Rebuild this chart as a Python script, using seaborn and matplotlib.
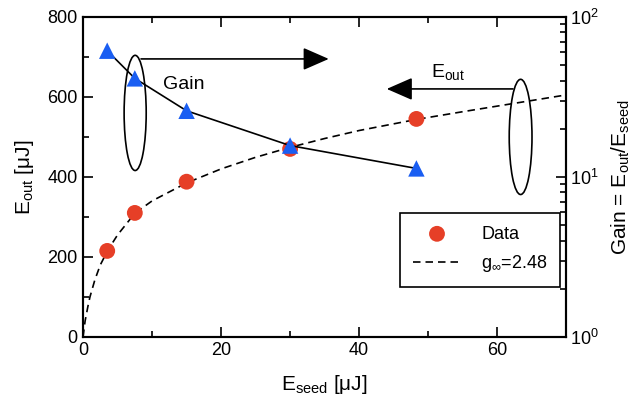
import matplotlib
matplotlib.use("Agg")
import numpy as np
import pandas as pd
import seaborn as sns
import matplotlib.pyplot as plt
from matplotlib.patches import Ellipse
from matplotlib.ticker import MultipleLocator

# measured points
e_seed = [3.5, 7.5, 15.0, 30.0, 48.3]
e_out = [215, 310, 388, 470, 545]
gain = [61.5, 41.3, 25.9, 15.7, 11.3]

# fitted curve
fit_seed = [0, 0.3, 0.7, 1.0, 1.7, 2.5, 3.6, 5, 7.5, 10, 15, 20, 25, 30, 35, 40, 48.4, 55, 60, 65, 70]
fit_out = [0, 40, 76, 100, 142, 180, 217, 255, 309, 340, 385, 420, 449, 474, 496, 516, 544, 563, 577, 591, 605]

red = "#e63f27"
blue = "#1a5ef2"

sns.set_style("ticks")
plt.rcParams["font.family"] = ["Liberation Sans", "DejaVu Sans"]
plt.rcParams["mathtext.fontset"] = "custom"
plt.rcParams["mathtext.rm"] = "Liberation Sans"
plt.rcParams["mathtext.it"] = "Liberation Sans:italic"
plt.rcParams["mathtext.default"] = "regular"
for key in ["text.color", "axes.labelcolor", "xtick.color", "ytick.color", "axes.edgecolor"]:
    plt.rcParams[key] = "black"

df = pd.DataFrame({"seed": e_seed, "out": e_out, "gain": gain})
fit = pd.DataFrame({"seed": fit_seed, "out": fit_out})

fig = plt.figure(figsize=(6.34, 4.03), dpi=100)
ax = fig.add_axes([0.131, 0.164, 0.762, 0.794])
ax2 = ax.twinx()

sns.scatterplot(data=df, x="seed", y="out", ax=ax, color=red, s=130,
                edgecolor="none", label="Data", zorder=4)
sns.lineplot(data=fit, x="seed", y="out", ax=ax, color="black", lw=1.2,
             linestyle=(0, (4.5, 3)), label="g$_{\\infty}$=2.48", zorder=3)

sns.lineplot(data=df, x="seed", y="gain", ax=ax2, color="black", lw=1.2, zorder=3)
sns.scatterplot(data=df, x="seed", y="gain", ax=ax2, color=blue, marker="^",
                s=140, edgecolor="none", zorder=4)

ax.set_xlim(0, 70)
ax.set_ylim(0, 800)
ax2.set_yscale("log")
ax2.set_ylim(1, 100)

ax.xaxis.set_major_locator(MultipleLocator(20))
ax.xaxis.set_minor_locator(MultipleLocator(10))
ax.yaxis.set_major_locator(MultipleLocator(200))
ax.yaxis.set_minor_locator(MultipleLocator(100))

ax.tick_params(which="both", direction="in", top=True, right=False,
               labelsize=13, width=1.2, pad=4)
ax.tick_params(which="major", length=7)
ax.tick_params(which="minor", length=4)
ax2.tick_params(which="both", direction="in", labelsize=13, width=1.2, pad=3)
ax2.tick_params(which="major", length=7)
ax2.tick_params(which="minor", length=4)

for a in (ax, ax2):
    for sp in a.spines.values():
        sp.set_visible(True)
        sp.set_linewidth(1.5)

ax.set_xlabel("E$_{seed}$ [μJ]", fontsize=15, labelpad=10)
ax.set_ylabel("E$_{out}$ [μJ]", fontsize=15, labelpad=8)
ax2.set_ylabel("Gain = E$_{out}$/E$_{seed}$", fontsize=15, labelpad=8)

# annotations: ellipses and arrows
ax.add_patch(Ellipse((7.55, 560), 3.2, 288, fill=False, lw=1.2, ec="black", zorder=5))
ax.add_patch(Ellipse((63.4, 500), 3.3, 288, fill=False, lw=1.2, ec="black", zorder=5))
ax.annotate("", xy=(35.6, 695), xytext=(8.4, 695),
            arrowprops=dict(arrowstyle="-|>,head_length=0.8,head_width=0.35",
                            color="black", lw=1.2, shrinkA=0, shrinkB=0,
                            mutation_scale=20))
ax.annotate("", xy=(44.0, 620), xytext=(62.3, 620),
            arrowprops=dict(arrowstyle="-|>,head_length=0.8,head_width=0.35",
                            color="black", lw=1.2, shrinkA=0, shrinkB=0,
                            mutation_scale=20))
ax.text(14.6, 632, "Gain", fontsize=14, ha="center", va="center")
ax.text(52.9, 662, "E$_{out}$", fontsize=14, ha="center", va="center")

h, l = ax.get_legend_handles_labels()
ax.get_legend().remove()
if ax2.get_legend() is not None:
    ax2.get_legend().remove()
leg = ax2.legend(h, l, loc="upper left", bbox_to_anchor=(0.656, 0.3875),
                 fontsize=13, frameon=True, fancybox=False, framealpha=1,
                 edgecolor="black", handlelength=2.7, handletextpad=1.1,
                 borderpad=0.7, labelspacing=0.6, borderaxespad=0)
leg.get_frame().set_linewidth(1.2)

fig.savefig("out.png", dpi=100)
